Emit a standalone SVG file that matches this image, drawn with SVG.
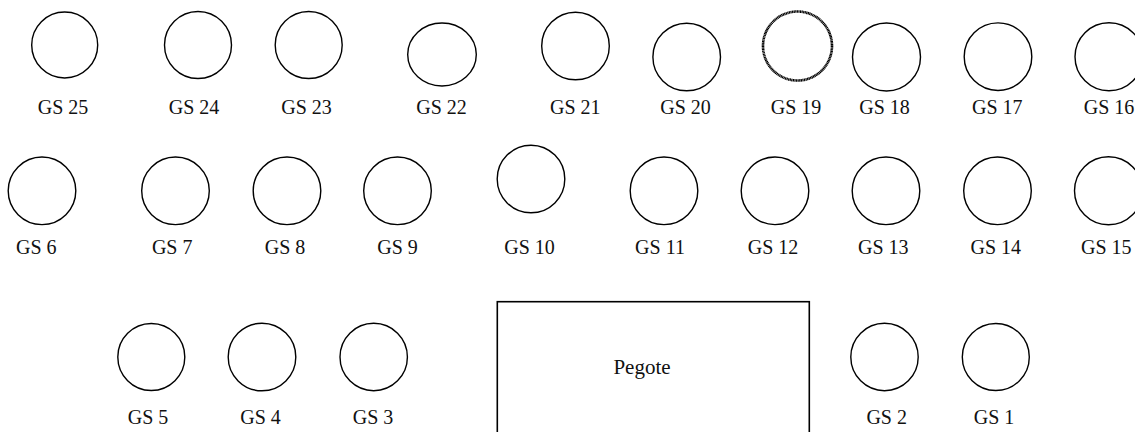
<svg xmlns="http://www.w3.org/2000/svg" width="1135" height="432" viewBox="0 0 1135 432">
<style>
.c{fill:none;stroke:#000;stroke-width:1.4}
.t{font-family:"Liberation Serif","Times New Roman",serif;font-size:20px;fill:#111;text-anchor:middle}
.p{font-family:"Liberation Serif","Times New Roman",serif;font-size:21px;fill:#111;text-anchor:middle}
</style>
<rect width="1135" height="432" fill="#fff"/>
<g id="connectors"></g>
<g id="gs25"><circle class="c" cx="64.7" cy="45" r="33"/><text class="t" x="63" y="114">GS 25</text></g>
<g id="gs24"><circle class="c" cx="198" cy="45" r="33.5"/><text class="t" x="194" y="114">GS 24</text></g>
<g id="gs23"><circle class="c" cx="308.7" cy="45" r="33.5"/><text class="t" x="306.5" y="114">GS 23</text></g>
<g id="gs22"><ellipse class="c" cx="442" cy="54.5" rx="34.3" ry="31.5"/><text class="t" x="441.5" y="114">GS 22</text></g>
<g id="gs21"><circle class="c" cx="575.5" cy="46" r="33.8"/><text class="t" x="575.3" y="114">GS 21</text></g>
<g id="gs20"><circle class="c" cx="686.7" cy="57" r="33.8"/><text class="t" x="685.5" y="114">GS 20</text></g>
<g id="gs19"><circle class="c" cx="797.5" cy="46" r="34.5" style="stroke-width:2.6;stroke-dasharray:1.2 0.4"/><text class="t" x="796" y="114">GS 19</text></g>
<g id="gs18"><circle class="c" cx="886.5" cy="57" r="34"/><text class="t" x="884.5" y="114">GS 18</text></g>
<g id="gs17"><circle class="c" cx="998" cy="56.7" r="33.8"/><text class="t" x="997.3" y="114">GS 17</text></g>
<g id="gs16"><circle class="c" cx="1109" cy="56.7" r="34"/><text class="t" x="1109" y="114">GS 16</text></g>

<g id="gs6"><circle class="c" cx="42" cy="190.8" r="33.8"/><text class="t" x="36.3" y="254">GS 6</text></g>
<g id="gs7"><circle class="c" cx="175.5" cy="190.8" r="33.8"/><text class="t" x="172.2" y="254">GS 7</text></g>
<g id="gs8"><circle class="c" cx="287" cy="190.8" r="33.8"/><text class="t" x="285" y="254">GS 8</text></g>
<g id="gs9"><circle class="c" cx="397.5" cy="190.8" r="33.8"/><text class="t" x="397.5" y="254">GS 9</text></g>
<g id="gs10"><circle class="c" cx="531" cy="179" r="33.8"/><text class="t" x="529.5" y="254">GS 10</text></g>
<g id="gs11"><circle class="c" cx="664" cy="190.8" r="33.8"/><text class="t" x="660" y="254">GS 11</text></g>
<g id="gs12"><circle class="c" cx="775" cy="190.8" r="33.8"/><text class="t" x="773" y="254">GS 12</text></g>
<g id="gs13"><circle class="c" cx="886" cy="190.8" r="33.8"/><text class="t" x="883.3" y="254">GS 13</text></g>
<g id="gs14"><circle class="c" cx="997.5" cy="190.8" r="33.8"/><text class="t" x="995.8" y="254">GS 14</text></g>
<g id="gs15"><circle class="c" cx="1108.5" cy="190.8" r="34"/><text class="t" x="1106.3" y="254">GS 15</text></g>

<g id="gs5"><circle class="c" cx="151.3" cy="357" r="33.5"/><text class="t" x="148" y="424">GS 5</text></g>
<g id="gs4"><circle class="c" cx="262" cy="357" r="33.8"/><text class="t" x="260.5" y="424">GS 4</text></g>
<g id="gs3"><circle class="c" cx="373.7" cy="357" r="33.7"/><text class="t" x="373" y="424">GS 3</text></g>
<g id="pegote"><rect x="497.3" y="301.7" width="312" height="140" fill="none" stroke="#000" stroke-width="1.6"/><text class="p" x="642" y="374">Pegote</text></g>
<g id="gs2"><circle class="c" cx="884.5" cy="357" r="33.7"/><text class="t" x="886.7" y="424">GS 2</text></g>
<g id="gs1"><circle class="c" cx="995.8" cy="357" r="33.5"/><text class="t" x="994" y="424">GS 1</text></g>
</svg>
